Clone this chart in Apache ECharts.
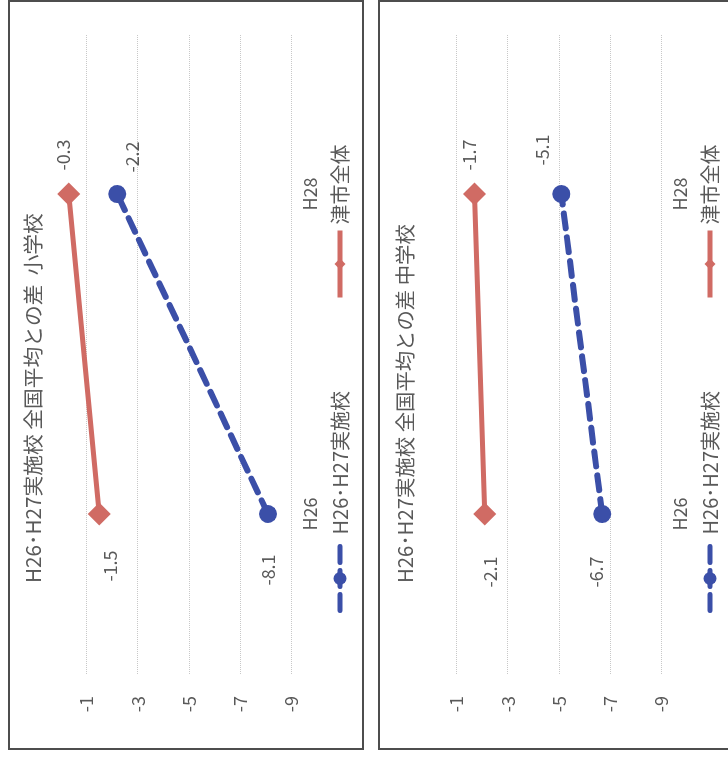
<!DOCTYPE html>
<html><head><meta charset="utf-8">
<script src="https://cdn.jsdelivr.net/npm/echarts@6/dist/echarts.min.js"></script>
<style>
html,body{margin:0;padding:0;width:728px;height:757px;overflow:hidden;background:#fff}
#c{position:absolute;left:0;top:0;width:757px;height:728px;transform-origin:0 0;transform:translate(0,757px) rotate(-90deg);}
</style></head><body><div id="c"></div>
<script>
// ---- data ----
const categories = ['H26', 'H28'];
const seriesNames = ['H26･H27実施校', '津市全体'];
const titles = ['H26･H27実施校 全国平均との差  小学校', 'H26･H27実施校 全国平均との差 中学校'];
const elemSchools = [-8.1, -2.2];   // 小学校 H26･H27実施校
const elemCity = [-1.5, -0.3];      // 小学校 津市全体
const juniorSchools = [-6.7, -5.1]; // 中学校 H26･H27実施校
const juniorCity = [-2.1, -1.7];    // 中学校 津市全体
const valueMin = -9, valueMax = 0, valueStep = 2;

// ---- layout / style ----
const FONT = '"Noto Sans CJK JP", "Noto Sans", sans-serif';
const GRAY = '#595959';
const RED = '#D06B64';
const BLUE = '#3B4FA8';
const panelTops = [9, 379];
const titleCenters = [24, 26];
const titleWidths = [370, 359];
const labelOffsets = [
  { school: [[-56, 0], [37, 15]], city: [[-52, 11], [39, -6]] },
  { school: [[-58, -6], [44, -19]], city: [[-58, 5], [39, -5]] }
];
const panelData = [
  { school: elemSchools, city: elemCity },
  { school: juniorSchools, city: juniorCity }
];

// fit title font size to the reference title length
const mctx = document.createElement('canvas').getContext('2d');
function fitSize(text, target) {
  mctx.font = '21px ' + FONT;
  const w = mctx.measureText(text).width;
  const s = w > 0 ? 21 * target / w : 21;
  return Math.max(19, Math.min(23, s));
}

const chart = echarts.init(document.getElementById('c'), null, { renderer: 'canvas' });

const grids = [], xAxes = [], yAxes = [], series = [], legends = [], graphics = [];
panelTops.forEach((pt, i) => {
  graphics.push({
    type: 'rect', shape: { x: 8, y: pt, width: 748, height: 354 },
    style: { fill: 'none', stroke: '#4d4d4d', lineWidth: 2 }, z: 100
  });
  graphics.push({
    type: 'text', x: 174, y: pt + titleCenters[i],
    style: {
      text: titles[i], fill: GRAY,
      font: fitSize(titles[i], titleWidths[i]).toFixed(2) + 'px ' + FONT,
      textAlign: 'left', textVerticalAlign: 'middle'
    }
  });
  grids.push({ left: 83, right: 34, top: pt + 52, height: 230 });
  xAxes.push({
    type: 'category', gridIndex: i, data: categories, boundaryGap: true,
    axisLine: { show: false }, axisTick: { show: false },
    axisLabel: { color: GRAY, fontSize: 18, fontFamily: FONT, margin: 10 }
  });
  yAxes.push({
    type: 'value', gridIndex: i, min: valueMin, max: valueMax, interval: valueStep,
    axisLine: { show: false }, axisTick: { show: false },
    axisLabel: { color: GRAY, fontSize: 18, fontFamily: FONT, margin: 22, showMaxLabel: false },
    splitLine: { show: true, showMaxLine: false, lineStyle: { color: '#c8c8c8', type: 'dotted', width: 1 } }
  });
  const mk = (vals, offs) => vals.map((v, k) => ({ value: v, label: { offset: offs[k] } }));
  const lbl = {
    show: true, position: 'inside', color: GRAY, fontSize: 18, fontFamily: FONT,
    formatter: p => Number(p.value).toFixed(1)
  };
  series.push({
    name: seriesNames[0], type: 'line', xAxisIndex: i, yAxisIndex: i,
    data: mk(panelData[i].school, labelOffsets[i].school),
    symbol: 'circle', symbolSize: 18,
    lineStyle: { color: BLUE, width: 6, type: [15, 9], cap: 'round' },
    itemStyle: { color: BLUE }, label: lbl
  });
  series.push({
    name: seriesNames[1], type: 'line', xAxisIndex: i, yAxisIndex: i,
    data: mk(panelData[i].city, labelOffsets[i].city),
    symbol: 'diamond', symbolSize: 23,
    lineStyle: { color: RED, width: 5 },
    itemStyle: { color: RED }, label: lbl
  });
  legends.push({
    data: [seriesNames[0]], left: 144, top: pt + 321, padding: 0,
    itemWidth: 64, itemHeight: 16,
    lineStyle: { width: 5, type: [16, 8], cap: 'round', color: BLUE },
    itemStyle: { color: BLUE },
    textStyle: { color: GRAY, fontSize: 20, fontFamily: FONT, padding: [0, 0, 0, 7] }
  });
  legends.push({
    data: [seriesNames[1]], left: 457, top: pt + 321, padding: 0,
    itemWidth: 67, itemHeight: 14,
    lineStyle: { width: 5, color: RED },
    itemStyle: { color: RED },
    textStyle: { color: GRAY, fontSize: 20, fontFamily: FONT, padding: [0, 0, 0, 1] }
  });
});

chart.setOption({
  backgroundColor: '#ffffff',
  animation: false,
  legend: legends,
  grid: grids,
  xAxis: xAxes,
  yAxis: yAxes,
  series: series,
  graphic: graphics
});
</script></body></html>
